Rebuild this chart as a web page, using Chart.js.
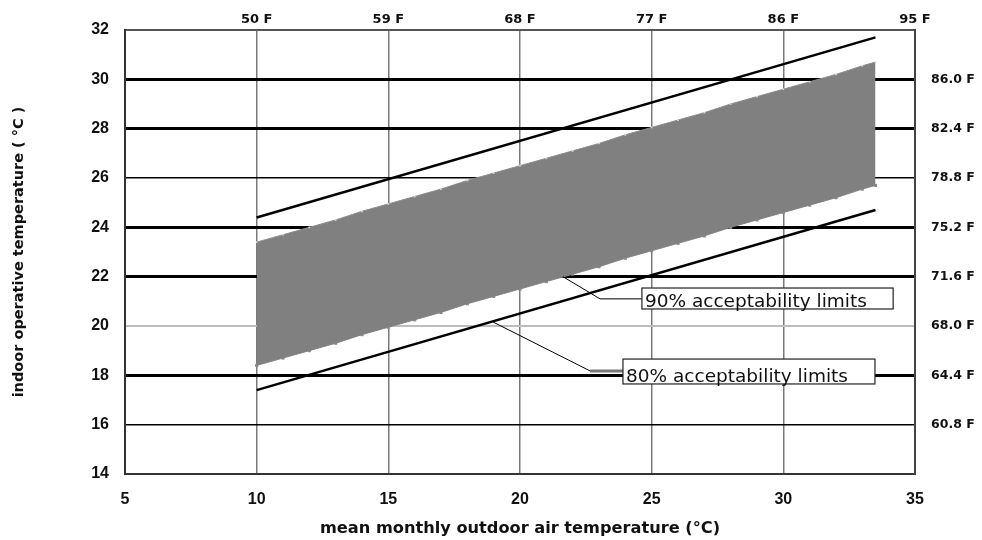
<!DOCTYPE html>
<html>
<head>
<meta charset="utf-8">
<script src="https://cdn.jsdelivr.net/npm/chart.js@4.4.1/dist/chart.umd.min.js"></script>
<style>
  html, body { margin: 0; padding: 0; background: #fff; }
  #wrap { width: 982px; height: 540px; }
</style>
</head>
<body>
<div id="wrap"><canvas id="grafico" width="982" height="540"></canvas></div>
<script>
// temperatura externa média mensal (°C) nos pontos da faixa de 90%
const outdoorBand = [10, 11, 12, 13, 14, 15, 16, 17, 18, 19, 20, 21, 22, 23, 24, 25, 26, 27, 28, 29, 30, 31, 32, 33, 33.5];
const upper90 = [23.4, 23.7, 24.0, 24.3, 24.65, 24.95, 25.25, 25.55, 25.9, 26.2, 26.5, 26.8, 27.1, 27.4, 27.75, 28.05, 28.35, 28.65, 29.0, 29.3, 29.6, 29.9, 30.2, 30.55, 30.7];
const lower90 = [18.4, 18.7, 19.0, 19.3, 19.65, 19.95, 20.25, 20.55, 20.9, 21.2, 21.5, 21.8, 22.1, 22.4, 22.75, 23.05, 23.35, 23.65, 24.0, 24.3, 24.6, 24.9, 25.2, 25.55, 25.7];

// limites de 80% (retas)
const outdoorLimits = [10, 33.5];
const upper80 = [24.4, 31.7];
const lower80 = [17.4, 24.7];

// eixos
const xTicksC = [5, 10, 15, 20, 25, 30, 35];
const xTicksTop = [10, 15, 20, 25, 30, 35];
const xLabelsF = ["50 F", "59 F", "68 F", "77 F", "86 F", "95 F"];
const yTicksC = [14, 16, 18, 20, 22, 24, 26, 28, 30, 32];
const yTicksRight = [16, 18, 20, 22, 24, 26, 28, 30];
const yLabelsF = ["60.8 F", "64.4 F", "68.0 F", "71.6 F", "75.2 F", "78.8 F", "82.4 F", "86.0 F"];

// estilo das linhas horizontais
const linhasGrossas = [18, 22, 24, 28, 30];
const linhasClaras = [20];

const pontos = (xs, ys) => xs.map((v, i) => ({ x: v, y: ys[i] }));
const setTicks = (vals) => (scale) => { scale.ticks = vals.map(v => ({ value: v })); };

// caixas de texto e linhas de chamada (coordenadas em °C)
const anotacoes = {
  id: "anotacoes",
  afterDatasetsDraw(chart) {
    const { ctx, scales: { x, y } } = chart;
    const px = (v) => x.getPixelForValue(v);
    const py = (v) => y.getPixelForValue(v);

    ctx.save();
    ctx.strokeStyle = "#000";
    ctx.lineWidth = 1;
    ctx.beginPath();
    ctx.moveTo(px(21.63), py(22.0));
    ctx.lineTo(px(23.04), py(21.1));
    ctx.lineTo(px(24.63), py(21.1));
    ctx.moveTo(px(18.98), py(20.16));
    ctx.lineTo(px(22.66), py(18.18));
    ctx.stroke();

    ctx.strokeStyle = "#777";
    ctx.lineWidth = 3;
    ctx.beginPath();
    ctx.moveTo(px(22.66), py(18.18));
    ctx.lineTo(px(23.91), py(18.18));
    ctx.stroke();

    const caixas = [
      { texto: "90% acceptability limits", x0: 24.63, x1: 34.17, y0: 21.54, y1: 20.69 },
      { texto: "80% acceptability limits", x0: 23.91, x1: 33.48, y0: 18.66, y1: 17.65 }
    ];
    caixas.forEach((c) => {
      const l = px(c.x0), r = px(c.x1), t = py(c.y0), b = py(c.y1);
      ctx.fillStyle = "#fff";
      ctx.fillRect(l, t, r - l, b - t);
      ctx.strokeStyle = "#222";
      ctx.lineWidth = 1.2;
      ctx.strokeRect(l, t, r - l, b - t);
      ctx.fillStyle = "#111";
      ctx.font = '18.5px "DejaVu Sans"';
      ctx.textBaseline = "alphabetic";
      ctx.textAlign = "left";
      ctx.fillText(c.texto, l + 3, b - 2);
    });
    ctx.restore();
  }
};

const ctx = document.getElementById("grafico").getContext("2d");
new Chart(ctx, {
  type: "line",
  data: {
    datasets: [
      {
        label: "90% superior",
        data: pontos(outdoorBand, upper90),
        borderColor: "#8c8c8c",
        borderWidth: 1,
        backgroundColor: "#808080",
        fill: "+1",
        pointStyle: "rect",
        pointRadius: 1.2,
        pointBackgroundColor: "#d8d8d8",
        pointBorderWidth: 0
      },
      {
        label: "90% inferior",
        data: pontos(outdoorBand, lower90),
        borderColor: "#8c8c8c",
        borderWidth: 1,
        fill: false,
        pointStyle: "rect",
        pointRadius: 2.2,
        pointBackgroundColor: "#8a8a8a",
        pointBorderWidth: 0
      },
      {
        label: "80% superior",
        data: pontos(outdoorLimits, upper80),
        borderColor: "#000",
        borderWidth: 2.5,
        fill: false,
        pointRadius: 0
      },
      {
        label: "80% inferior",
        data: pontos(outdoorLimits, lower80),
        borderColor: "#000",
        borderWidth: 2.5,
        fill: false,
        pointRadius: 0
      }
    ]
  },
  options: {
    responsive: false,
    animation: false,
    layout: { padding: 0 },
    plugins: {
      legend: { display: false },
      tooltip: { enabled: false }
    },
    scales: {
      x: {
        type: "linear",
        position: "bottom",
        min: 5,
        max: 35,
        afterBuildTicks: setTicks(xTicksC),
        afterFit: (s) => { s.height = 66; },
        grid: {
          drawTicks: false,
          lineWidth: 1.5,
          color: (c) => (c.tick && (c.tick.value === 5 || c.tick.value === 35)) ? "rgba(0,0,0,0)" : "#7a7a7a"
        },
        border: { display: true, color: "#333", width: 2 },
        ticks: {
          padding: 16,
          color: "#111",
          font: { family: "Liberation Sans", size: 16, weight: "bold" }
        },
        title: {
          display: true,
          text: "mean monthly outdoor air temperature (°C)",
          color: "#111",
          padding: { top: 0, bottom: 1 },
          font: { family: "DejaVu Sans", size: 16.2, weight: "bold" }
        }
      },
      xTop: {
        type: "linear",
        position: "top",
        min: 5,
        max: 35,
        afterBuildTicks: setTicks(xTicksTop),
        afterFit: (s) => { s.height = 30; },
        grid: { display: false, drawTicks: false },
        border: { display: true, color: "#555", width: 2 },
        ticks: {
          padding: 3,
          color: "#111",
          font: { family: "DejaVu Sans", size: 13, weight: "bold" },
          callback: (v) => xLabelsF[xTicksTop.indexOf(v)]
        }
      },
      y: {
        type: "linear",
        position: "left",
        min: 14,
        max: 32,
        afterBuildTicks: setTicks(yTicksC),
        afterFit: (s) => { s.width = 125; },
        grid: {
          drawTicks: false,
          lineWidth: (c) => {
            if (!c.tick) return 1;
            if (linhasGrossas.includes(c.tick.value)) return 3;
            if (linhasClaras.includes(c.tick.value)) return 2;
            return 1.5;
          },
          color: (c) => {
            if (!c.tick || c.tick.value === 14 || c.tick.value === 32) return "rgba(0,0,0,0)";
            if (linhasClaras.includes(c.tick.value)) return "#bdbdbd";
            return "#000";
          }
        },
        border: { display: true, color: "#333", width: 2 },
        ticks: {
          padding: 16,
          color: "#111",
          font: { family: "Liberation Sans", size: 16, weight: "bold" }
        },
        title: {
          display: true,
          text: "indoor operative temperature ( °C )",
          color: "#111",
          padding: { top: 11, bottom: 0 },
          font: { family: "DejaVu Sans", size: 14.5, weight: "bold" }
        }
      },
      yRight: {
        type: "linear",
        position: "right",
        min: 14,
        max: 32,
        afterBuildTicks: setTicks(yTicksRight),
        afterFit: (s) => { s.width = 67; },
        grid: { display: false, drawTicks: false },
        border: { display: true, color: "#444", width: 2 },
        ticks: {
          padding: 16,
          color: "#111",
          font: { family: "DejaVu Sans", size: 12.5, weight: "bold" },
          callback: (v) => yLabelsF[yTicksRight.indexOf(v)]
        }
      }
    }
  },
  plugins: [anotacoes]
});
</script>
</body>
</html>
